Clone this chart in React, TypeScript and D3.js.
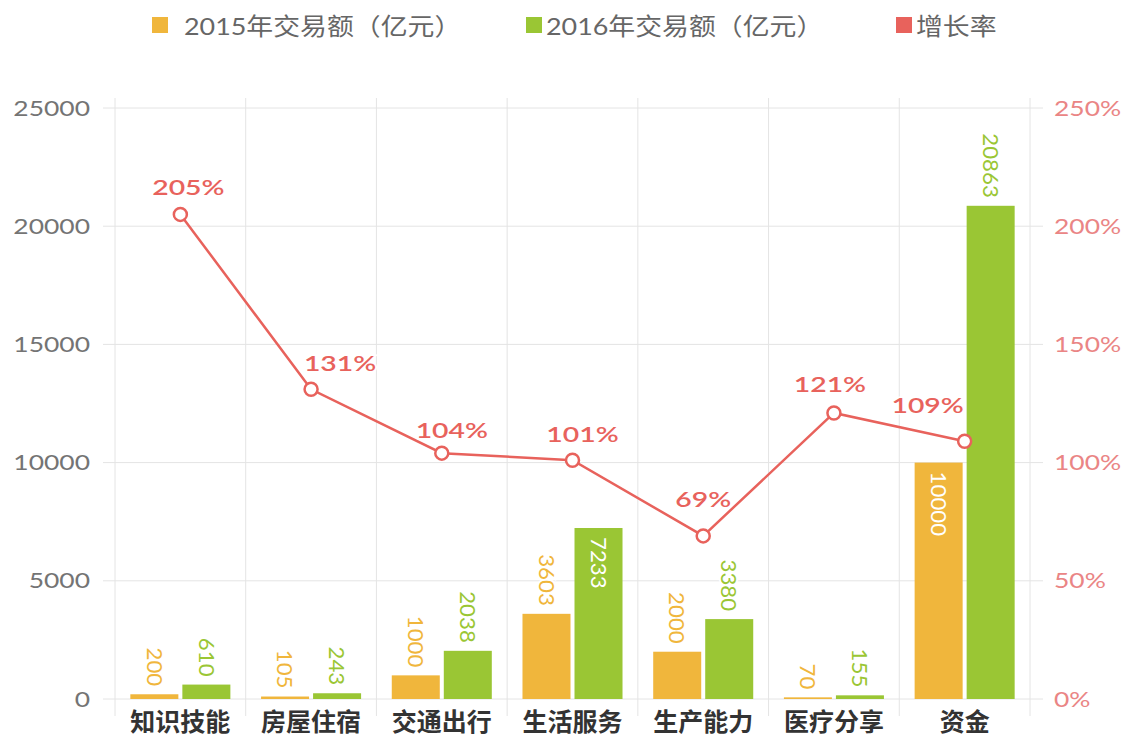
import React from "react";
import * as d3 from "d3";

const WIDTH = 1126;
const HEIGHT = 739;
const PLOT = { left: 115, right: 1030, top: 108, bottom: 699 };

const categories = ["知识技能", "房屋住宿", "交通出行", "生活服务", "生产能力", "医疗分享", "资金"];
const seriesNames = ["2015年交易额（亿元）", "2016年交易额（亿元）"];
const volume2015 = [200, 105, 1000, 3603, 2000, 70, 10000];
const volume2016 = [610, 243, 2038, 7233, 3380, 155, 20863];
const growthRate = [205, 131, 104, 101, 69, 121, 109];
const lineName = "增长率";
const leftTicks = [0, 5000, 10000, 15000, 20000, 25000];
const rightTicks = [0, 50, 100, 150, 200, 250];

// labels that sit inside the top of their bar (white text)
const insideLabels = new Set(["生活服务|1", "资金|0"]);
// nudges for the percentage labels, reference avoids overlaps a bit
const pctNudge: [number, number][] = [[8, 19], [29, 18], [10, 15], [10, 18], [0, 29], [-4, 21], [-37, 28]];

const COLORS = ["#f0b63c", "#9ac634"];
const RED = "#e8625c";
const GRID = "#e4e4e4";
const FONT = "Lato, 'Noto Sans CJK SC', sans-serif";

export default function App() {
  const x = d3.scaleBand().domain(categories).range([PLOT.left, PLOT.right]).padding(0);
  const xs = d3.scaleBand().domain(["0", "1"]).range([0, x.bandwidth()]).paddingInner(0.077).paddingOuter(0.295);
  const y = d3.scaleLinear().domain([0, 25000]).range([PLOT.bottom, PLOT.top]);
  const yr = d3.scaleLinear().domain([0, 250]).range([PLOT.bottom, PLOT.top]);

  const series = [volume2015, volume2016];
  const cx = (c: string) => (x(c) as number) + x.bandwidth() / 2;

  const line = d3
    .line<number>()
    .x((_, i) => cx(categories[i]))
    .y((d) => yr(d));

  const bounds = categories.map((c) => x(c) as number).concat([PLOT.right]);

  const legend = [
    { sx: 152, tx: 184, label: seriesNames[0], color: COLORS[0] },
    { sx: 526, tx: 546, label: seriesNames[1], color: COLORS[1] },
    { sx: 896, tx: 916, label: lineName, color: RED },
  ];

  return (
    <div style={{ position: "absolute", left: 0, top: 0 }}>
      <svg width={WIDTH} height={HEIGHT} style={{ display: "block", background: "#fff" }} fontFamily={FONT}>
        {/* grid */}
        {leftTicks.map((t) => (
          <line key={"h" + t} x1={103} x2={1043} y1={y(t)} y2={y(t)} stroke={GRID} strokeWidth={1} />
        ))}
        {bounds.map((b, i) => (
          <line key={"v" + i} x1={b} x2={b} y1={98} y2={716} stroke={GRID} strokeWidth={1} />
        ))}

        {/* left axis */}
        {leftTicks.map((t) => (
          <text
            key={"l" + t}
            transform={`translate(90,${y(t) + 7.5}) scale(1.26,1)`}
            textAnchor="end"
            fontSize={21}
            fill="#747474"
          >
            {t}
          </text>
        ))}
        {/* right axis */}
        {rightTicks.map((t) => (
          <text
            key={"r" + t}
            transform={`translate(1054,${yr(t) + 7.5}) scale(1.26,1)`}
            fontSize={21}
            fill="#ea8585"
          >
            {t + "%"}
          </text>
        ))}

        {/* bars */}
        {series.map((vals, s) =>
          vals.map((v, i) => {
            const c = categories[i];
            const bx = (x(c) as number) + (xs(String(s)) as number);
            return (
              <rect
                key={`b${s}-${i}`}
                x={bx}
                y={y(v)}
                width={xs.bandwidth()}
                height={PLOT.bottom - y(v)}
                fill={COLORS[s]}
              />
            );
          })
        )}

        {/* bar labels */}
        {series.map((vals, s) =>
          vals.map((v, i) => {
            const c = categories[i];
            const mx = (x(c) as number) + (xs(String(s)) as number) + xs.bandwidth() / 2;
            const inside = insideLabels.has(`${c}|${s}`);
            const ly = inside ? y(v) + 9 : y(v) - 8;
            return (
              <text
                key={`t${s}-${i}`}
                transform={`translate(${mx},${ly}) rotate(90) scale(1.06,1)`}
                textAnchor={inside ? "start" : "end"}
                dominantBaseline="central"
                fontSize={21}
                fill={inside ? "#fff" : COLORS[s]}
                stroke={inside ? "none" : "#fff"}
                strokeWidth={4}
                paintOrder="stroke"
              >
                {v}
              </text>
            );
          })
        )}

        {/* growth line */}
        <path d={line(growthRate) || ""} fill="none" stroke={RED} strokeWidth={2.5} />
        {growthRate.map((g, i) => (
          <circle key={"c" + i} cx={cx(categories[i])} cy={yr(g)} r={6.5} fill="#fff" stroke={RED} strokeWidth={2.5} />
        ))}
        {growthRate.map((g, i) => (
          <text
            key={"p" + i}
            transform={`translate(${cx(categories[i]) + pctNudge[i][0]},${yr(g) - pctNudge[i][1]}) scale(1.35,1)`}
            textAnchor="middle"
            fontSize={21}
            fontWeight={600}
            fill={RED}
            stroke="#fff"
            strokeWidth={3}
            paintOrder="stroke"
          >
            {g + "%"}
          </text>
        ))}

        {/* category labels */}
        {categories.map((c) => (
          <text key={"x" + c} x={cx(c)} y={731} textAnchor="middle" fontSize={25} fontWeight={700} fill="#333">
            {c}
          </text>
        ))}

        {/* legend */}
        {legend.map((d) => (
          <g key={d.label}>
            <rect x={d.sx} y={17} width={16} height={16} fill={d.color} />
            <text transform={`translate(${d.tx},35) scale(1.12,1)`} fontSize={24} fill="#666">
              {d.label}
            </text>
          </g>
        ))}
      </svg>
    </div>
  );
}
